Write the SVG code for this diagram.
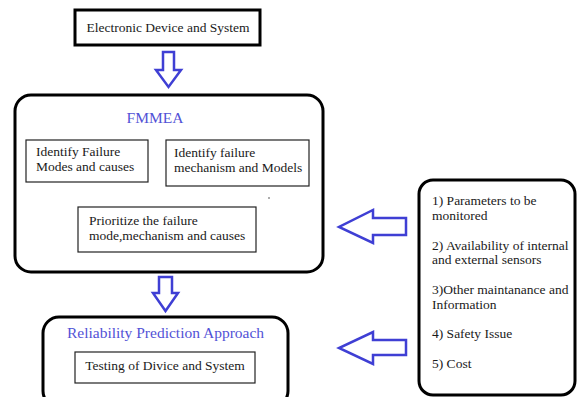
<svg xmlns="http://www.w3.org/2000/svg" width="577" height="397" viewBox="0 0 577 397">
<style>
text{font-family:"Liberation Serif","Times New Roman",serif;font-size:13.5px;fill:#1a1a1a}
.title{fill:#5252d6;font-size:15.5px}
.outer{fill:#fff;stroke:#000;stroke-width:3}
.inner{fill:#fff;stroke:#222;stroke-width:1.2}
.arrow{fill:#fff;stroke:#3f3fd4;stroke-width:2.5;stroke-linejoin:miter}
</style>
<rect width="577" height="397" fill="#fff"/>
<g id="electronic-device">
<rect x="75" y="10" width="185" height="35" fill="#fff" stroke="#000" stroke-width="3"/>
<text x="168" y="32" text-anchor="middle">Electronic Device and System</text>
</g>
<g id="fmmea">
<rect class="outer" x="15" y="95" width="308" height="177" rx="16"/>
<text class="title" x="155" y="123" text-anchor="middle">FMMEA</text>
</g>
<g id="identify-modes">
<rect class="inner" x="26" y="140" width="122" height="42"/>
<text x="36" y="156">Identify Failure</text>
<text x="36" y="171">Modes and causes</text>
</g>
<g id="identify-mechanism">
<rect class="inner" x="166" y="140" width="143" height="46"/>
<text x="174" y="157">Identify failure</text>
<text x="174" y="172">mechanism and Models</text>
</g>
<circle cx="269" cy="198" r="0.8" fill="#444"/>
<g id="prioritize">
<rect class="inner" x="78" y="207" width="178" height="45"/>
<text x="89" y="225">Prioritize the failure</text>
<text x="89" y="240">mode,mechanism and causes</text>
</g>
<g id="monitoring">
<rect class="outer" x="419" y="180" width="156" height="215" rx="14"/>
<text x="432" y="205">1) Parameters to be</text>
<text x="432" y="220">monitored</text>
<text x="432" y="250">2) Availability of internal</text>
<text x="432" y="264">and external sensors</text>
<text x="432" y="294">3)Other maintanance and</text>
<text x="432" y="309">Information</text>
<text x="432" y="338">4) Safety Issue</text>
<text x="432" y="368">5) Cost</text>
</g>
<g id="reliability">
<rect class="outer" x="43" y="317" width="245" height="90" rx="16"/>
<text class="title" x="165.5" y="338" text-anchor="middle">Reliability Prediction Approach</text>
</g>
<g id="testing">
<rect class="inner" x="75" y="352" width="180" height="31"/>
<text x="165" y="370" text-anchor="middle">Testing of Divice and System</text>
</g>
<g id="connectors">
<path class="arrow" d="M163,52 H174 V70 H181 L168.5,87 L156,70 H163 Z"/>
<path class="arrow" d="M159,277 H172 V293 H178 L165.5,311 L153,293 H159 Z"/>
<path class="arrow" d="M406,218 H373 V210 L339,227 L373,243 V235 H406 Z"/>
<path class="arrow" d="M406,340 H373 V332 L339,348 L373,364 V355 H406 Z"/>
</g>
</svg>
